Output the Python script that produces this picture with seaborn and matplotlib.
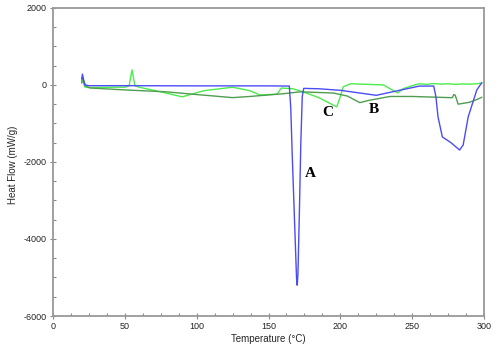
import numpy as np
import pandas as pd
import matplotlib
matplotlib.use("Agg")
import matplotlib.pyplot as plt
import seaborn as sns
from matplotlib.ticker import MultipleLocator

# Sample A (blue)
a_temp = [20, 20.5, 22, 25, 50, 100, 150, 164.5, 165.5, 166.5, 168, 169.5, 170, 170.5,
          171.5, 172.5, 173.5, 174.5, 185, 200, 225, 240, 255, 265, 266.5, 268, 271,
          277, 283, 285.5, 289, 295, 298.5]
a_flow = [150, 280, 0, -20, -20, -25, -25, -30, -600, -1800, -3400, -5000, -5200, -4900,
          -3300, -1500, -300, -90, -100, -140, -270, -150, -30, -30, -300, -830, -1350,
          -1500, -1690, -1560, -830, -130, 60]

# Sample B (dark green)
b_temp = [20, 20.5, 23, 26, 50, 79, 100, 125, 137, 160, 172, 195, 205, 209, 213.6, 220,
          234.5, 250, 276, 278, 279, 280, 282, 290, 295, 298.5]
b_flow = [50, 200, -40, -80, -130, -180, -250, -330, -300, -230, -180, -210, -290, -370,
          -460, -400, -300, -300, -330, -330, -250, -270, -500, -450, -380, -320]

# Sample C (light green)
c_temp = [20, 20.5, 22, 25, 40, 50, 53, 55, 57, 60, 75, 90, 105, 125, 137, 144, 156, 159,
          167, 174, 185, 197.5, 200, 202, 207, 230, 237, 240, 243.6, 250, 255, 260, 265,
          270, 275, 280, 285, 290, 295, 298.5]
c_flow = [50, 200, -50, -70, -60, -60, -20, 390, -20, -60, -180, -310, -150, -60, -150,
          -260, -240, -80, -100, -180, -330, -570, -300, -50, 30, 0, -150, -210, -100, -20,
          30, 15, 35, 20, 30, 15, 25, 20, 30, 50]

labels = ["A", "B", "C"]
label_pos_x = [179, 223, 191]
label_pos_y = [-2290, -650, -720]

sns.set_theme(style="white")
plt.rcParams['font.family'] = ['Liberation Sans', 'DejaVu Sans']
plt.rcParams['axes.unicode_minus'] = False

fig = plt.figure(figsize=(5, 3.47), dpi=100)
ax = fig.add_axes([0.106, 0.0893, 0.862, 0.888])

sns.lineplot(x=c_temp, y=c_flow, ax=ax, color="#4cec4c", lw=1.0, sort=False)
sns.lineplot(x=b_temp, y=b_flow, ax=ax, color="#4f9d4f", lw=1.0, sort=False)
sns.lineplot(x=a_temp, y=a_flow, ax=ax, color="#4c4cf5", lw=1.0, sort=False)

for lab, lx, ly in zip(labels, label_pos_x, label_pos_y):
    ax.text(lx, ly, lab, fontsize=11, fontweight="bold", family="Liberation Serif",
            ha="center", va="center", color="black")

ax.set_xlim(0, 300)
ax.set_ylim(-6000, 2000)
ax.xaxis.set_major_locator(MultipleLocator(50))
ax.xaxis.set_minor_locator(MultipleLocator(12.5))
ax.yaxis.set_major_locator(MultipleLocator(2000))
ax.yaxis.set_minor_locator(MultipleLocator(500))
ax.tick_params(which="major", direction="inout", length=5, width=0.8, color="#888888",
               labelsize=6.5, pad=2, bottom=True, left=True)
ax.tick_params(which="minor", direction="in", length=2, width=0.8, color="#888888",
               bottom=True, left=True)
for s in ax.spines.values():
    s.set_color("#999999")
    s.set_linewidth(1.3)

ax.set_xlabel("Temperature (°C)", fontsize=7)
ax.set_ylabel("Heat Flow (mW/g)", fontsize=7)
ax.xaxis.set_label_coords(0.5, -0.058)
ax.yaxis.set_label_coords(-0.081, 0.49)

fig.savefig("out.png", dpi=100)
